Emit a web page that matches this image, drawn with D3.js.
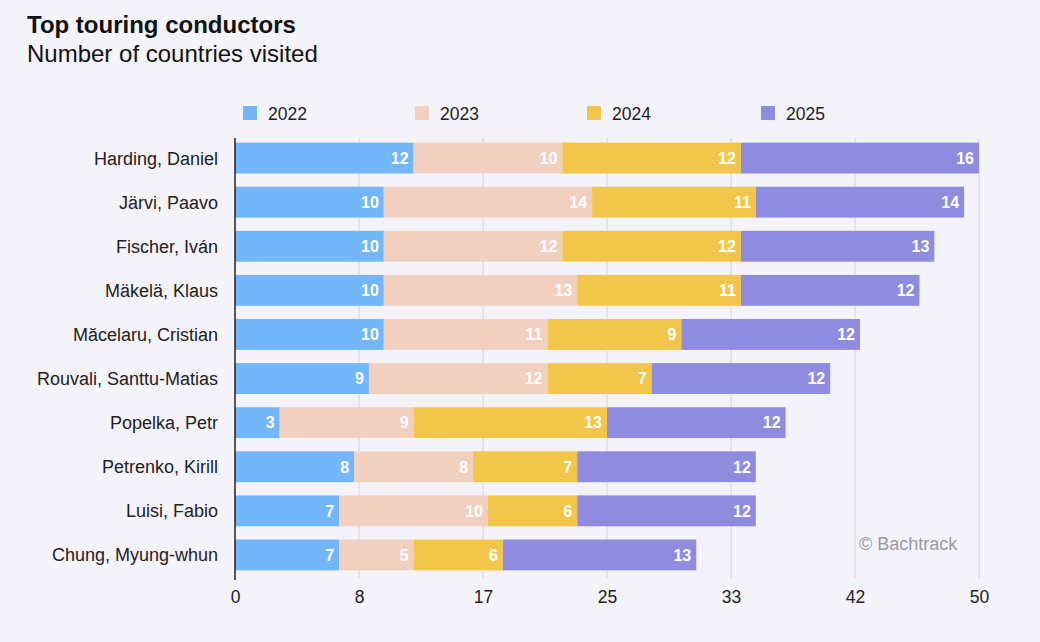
<!DOCTYPE html>
<html><head><meta charset="utf-8">
<script src="https://cdn.jsdelivr.net/npm/d3@7"></script>
<style>
html,body{margin:0;padding:0;background:#f4f3fa;}
svg{display:block;font-family:"Liberation Sans",Arial,Helvetica,sans-serif;}
</style></head>
<body><svg id="c" width="1040" height="642"></svg>
<script>
const conductors = ["Harding, Daniel","Järvi, Paavo","Fischer, Iván","Mäkelä, Klaus","Măcelaru, Cristian","Rouvali, Santtu-Matias","Popelka, Petr","Petrenko, Kirill","Luisi, Fabio","Chung, Myung-whun"];
const years = ["2022","2023","2024","2025"];
const v2022 = [12,10,10,10,10,9,3,8,7,7];
const v2023 = [10,14,12,13,11,12,9,8,10,5];
const v2024 = [12,11,12,11,9,7,13,7,6,6];
const v2025 = [16,14,13,12,12,12,12,12,12,13];
const tickValues = [0,50/6,100/6,25,100/3,250/6,50];
const colors = ["#74b6fa","#f1d0c0","#f2c64a","#8f8bdf"];

const svg = d3.select("#c");
svg.append("rect").attr("width",1040).attr("height",642).attr("fill","#f4f3fa");

const x = d3.scaleLinear().domain([0,50]).range([235,979]);
const y = d3.scaleBand().domain(conductors).range([136,577]).paddingInner(0.3).paddingOuter(0.15);

const rows = conductors.map((c,i)=>({name:c,"2022":v2022[i],"2023":v2023[i],"2024":v2024[i],"2025":v2025[i]}));
const stacked = d3.stack().keys(years)(rows);

// gridlines
svg.append("g").selectAll("line").data(tickValues.slice(1)).join("line")
  .attr("x1",d=>x(d)).attr("x2",d=>x(d)).attr("y1",138).attr("y2",578)
  .attr("stroke","#d4d3da").attr("stroke-width",1);

// bars
const g = svg.append("g");
stacked.forEach((layer,li)=>{
  g.append("g").selectAll("rect").data(layer).join("rect")
    .attr("x",d=>x(d[0])).attr("width",d=>x(d[1])-x(d[0]))
    .attr("y",d=>y(d.data.name)).attr("height",y.bandwidth())
    .attr("fill",colors[li]);
  g.append("g").selectAll("text").data(layer).join("text")
    .attr("x",d=>x(d[1])-5).attr("y",d=>y(d.data.name)+y.bandwidth()/2)
    .attr("dy","0.36em").attr("text-anchor","end")
    .attr("fill","#fff").attr("font-weight","bold").attr("font-size",16)
    .text(d=>d[1]-d[0]);
});

// y axis line
svg.append("line").attr("x1",235).attr("x2",235).attr("y1",138).attr("y2",580).attr("stroke","#222").attr("stroke-width",1.5);

// y labels
svg.append("g").selectAll("text").data(conductors).join("text")
  .attr("x",218).attr("y",d=>y(d)+y.bandwidth()/2).attr("dy","0.36em")
  .attr("text-anchor","end").attr("font-size",18).attr("fill","#222").text(d=>d);

// x axis
const xAxis = d3.axisBottom(x).tickValues(tickValues).tickFormat(d=>Math.round(d)).tickSize(0).tickPadding(11);
const ax = svg.append("g").attr("transform","translate(0,580)").call(xAxis);
ax.select(".domain").remove();
ax.selectAll("text").attr("font-size",17.5).attr("fill","#222").attr("font-family","Liberation Sans, Arial, sans-serif");

// title
svg.append("text").attr("x",27).attr("y",33).attr("font-size",24).attr("font-weight","bold").attr("fill","#111").text("Top touring conductors");
svg.append("text").attr("x",27).attr("y",62).attr("font-size",24).attr("fill","#111").text("Number of countries visited");

// legend
const legX = [243,415,587,761];
const lg = svg.append("g").selectAll("g").data(years).join("g").attr("transform",(d,i)=>`translate(${legX[i]},106)`);
lg.append("rect").attr("width",14).attr("height",14).attr("fill",(d,i)=>colors[i]);
lg.append("text").attr("x",25).attr("y",14).attr("font-size",17.5).attr("fill","#222").text(d=>d);

// watermark
svg.append("text").attr("x",859).attr("y",550).attr("font-size",18).attr("fill","#9a9aa2").text("© Bachtrack");
</script></body></html>
